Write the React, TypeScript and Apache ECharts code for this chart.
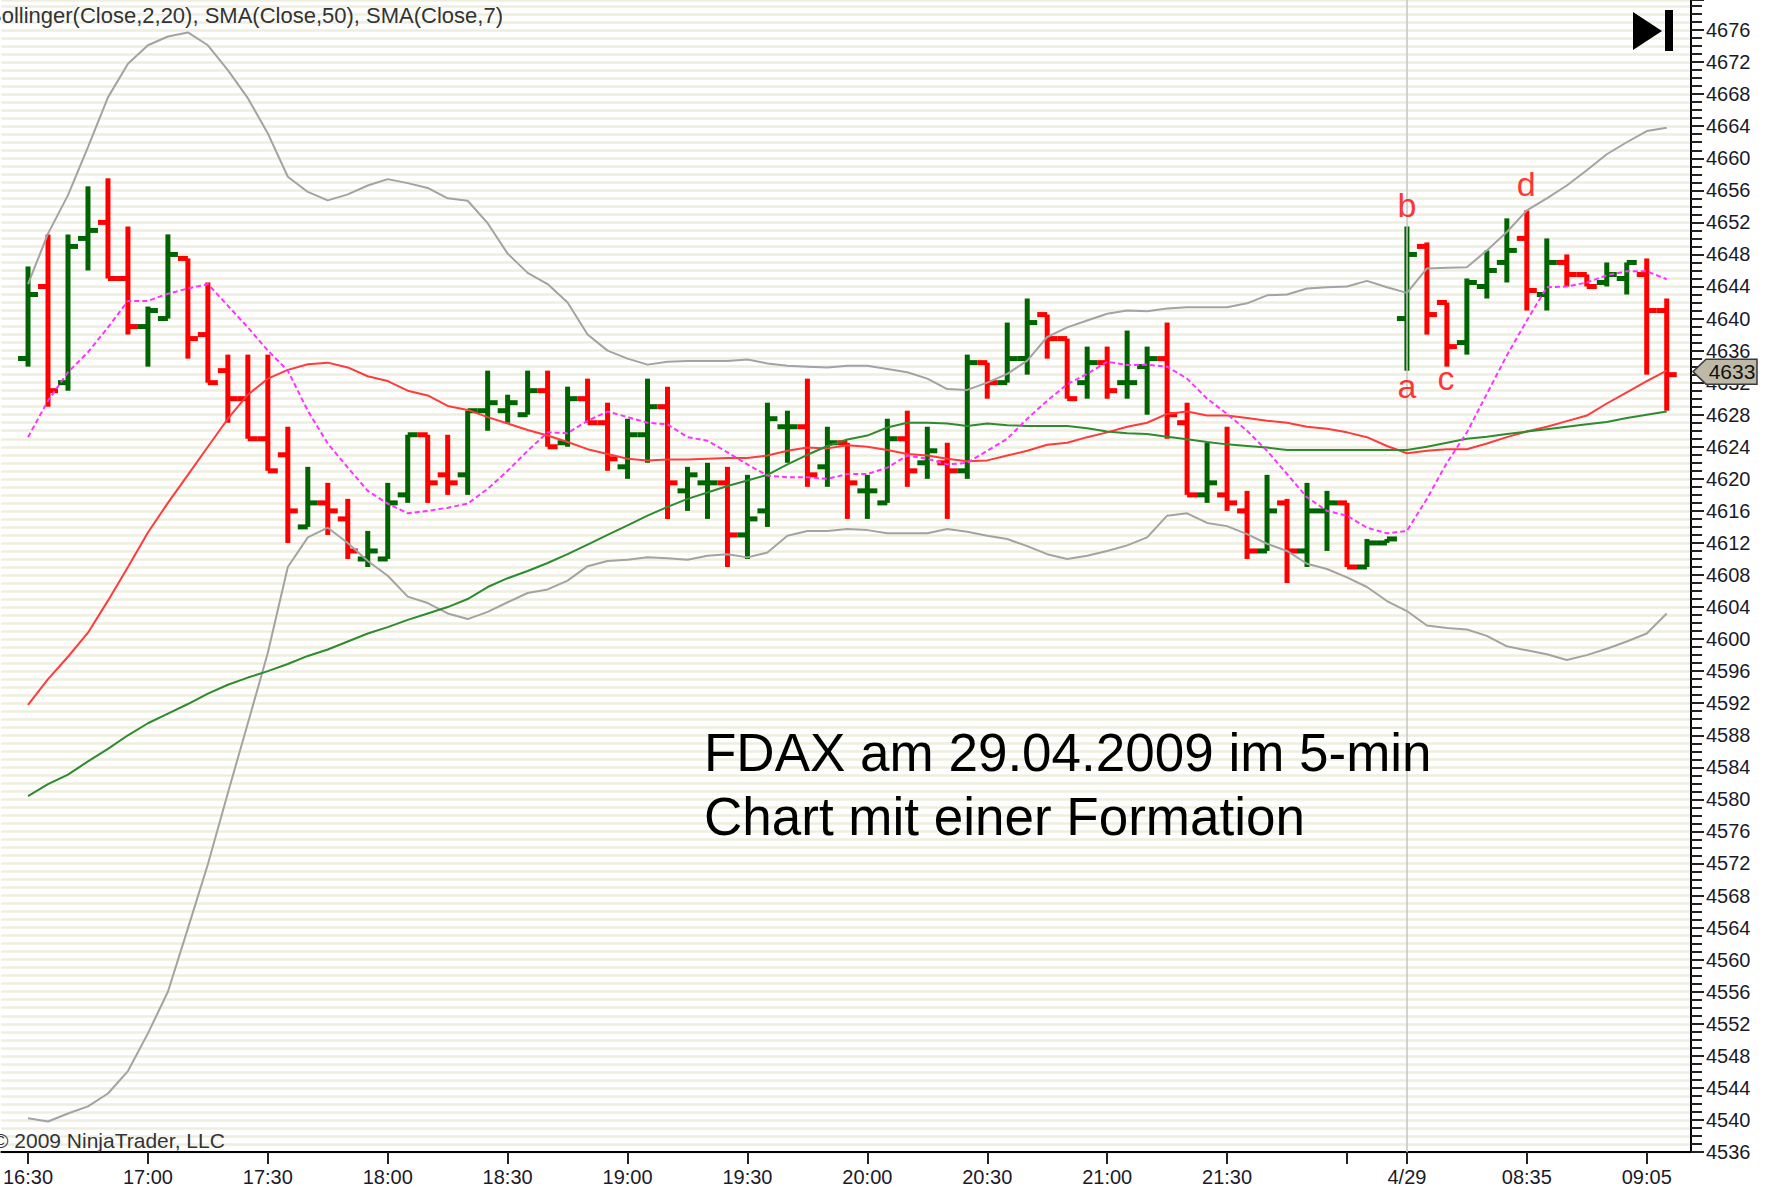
import React, { useEffect, useRef } from "react";
import * as echarts from "echarts";

// ---- data (5-min bars, FDAX 28./29.04.2009) ----
const opens = [
  4635, 4644, 4632, 4650, 4652, 4645, 4639, 4640, 4647.5, 4638,
  4633.5, 4630, 4625, 4623, 4614, 4617, 4615, 4610, 4610, 4618,
  4625.5, 4620.5, 4620.5, 4628.5, 4628.5, 4628, 4631, 4624.5, 4630, 4627,
  4621.5, 4625.5, 4629, 4618.5, 4619.5, 4619.5, 4613, 4616, 4626.5, 4626.5,
  4621.5, 4624.5, 4618.5, 4617, 4625, 4622, 4622, 4621, 4634.5, 4632,
  4635, 4640.5, 4637.5, 4632, 4634.5, 4632, 4634, 4635, 4627, 4618,
  4618, 4616, 4611, 4617, 4611, 4616, 4617, 4609, 4612, 4640,
  4649, 4642, 4637, 4644, 4647, 4650, 4643, 4647, 4645.5, 4644.5,
  4645, 4645.5, 4641,
];
const highs = [
  4646.5, 4650.5, 4650.5, 4656.5, 4657.5, 4651.5, 4641.5, 4650.5, 4647.5, 4644.5,
  4635.5, 4635.5, 4635.5, 4626.5, 4621.5, 4619.5, 4617.5, 4613.5, 4619.5, 4625.5,
  4625.5, 4625.5, 4628.5, 4633.5, 4630.5, 4633.5, 4633.5, 4631.5, 4632.5, 4629.5,
  4627.5, 4632.5, 4631.5, 4621.5, 4622, 4621.5, 4620.5, 4629.5, 4628.5, 4632.5,
  4626.5, 4624.5, 4620.5, 4627.5, 4628.5, 4626.5, 4624.5, 4635.5, 4634.5, 4639.5,
  4642.5, 4640.5, 4637.5, 4636.5, 4636.5, 4638.5, 4636.5, 4639.5, 4629.5, 4624.5,
  4626.5, 4618.5, 4620.5, 4617.5, 4619.5, 4618.5, 4617, 4612.5, 4612.5, 4651.5,
  4649.5, 4642, 4645, 4648.5, 4652.5, 4653.5, 4650, 4648, 4645.5, 4647,
  4647, 4647.5, 4642.5,
];
const lows = [
  4634, 4629, 4631, 4646, 4645, 4638, 4634, 4640, 4635, 4632,
  4627, 4625, 4621, 4612, 4614, 4613, 4610, 4609, 4610, 4617,
  4617, 4618, 4618, 4626, 4627, 4628, 4624, 4624, 4627, 4621,
  4620, 4622, 4615, 4616, 4615, 4609, 4610, 4614, 4622, 4619,
  4619, 4615, 4615, 4617, 4619, 4620, 4615, 4620, 4630, 4632,
  4633, 4635, 4630, 4630, 4630, 4630, 4628, 4625, 4618, 4617,
  4616, 4610, 4611, 4607, 4609, 4611, 4609, 4609, 4612, 4633.5,
  4638, 4634, 4635.5, 4642.5, 4644.5, 4641, 4641, 4644, 4644, 4644,
  4643, 4633, 4628.5,
];
const closes = [
  4643, 4631, 4649, 4651, 4645, 4639, 4641, 4648, 4637.5, 4632,
  4630, 4625, 4621, 4616, 4617, 4616, 4611, 4611, 4617, 4625.5,
  4619.5, 4619.5, 4628.5, 4629.5, 4629.5, 4631, 4624, 4630, 4627, 4622.5,
  4625.5, 4629, 4619.5, 4620.5, 4619.5, 4613, 4615, 4627.5, 4626.5, 4620.5,
  4624.5, 4619.5, 4618.5, 4625, 4621, 4623.5, 4621, 4634.5, 4632, 4635,
  4639.5, 4637.5, 4630, 4634.5, 4631, 4632, 4635, 4628, 4618, 4619.5,
  4617, 4611, 4616, 4611, 4616, 4617, 4609, 4612, 4612.5, 4648,
  4640.5, 4636.5, 4644.5, 4646, 4648.5, 4643.5, 4647, 4645.5, 4644, 4645.5,
  4647, 4641, 4633,
];

// Bollinger(Close,2,20)
const bbUpper = [
  4644.3, 4650.6, 4655.4, 4661.4, 4667.6, 4671.8, 4674.1, 4675.2, 4675.7, 4674.1,
  4671, 4667.5, 4663.1, 4657.7, 4655.8, 4654.75, 4655.5, 4656.6, 4657.4, 4656.9,
  4656.3, 4655, 4654.7, 4651.9, 4648.1, 4645.7, 4644.3, 4642, 4638, 4636,
  4635, 4634.25, 4634.6, 4634.7, 4634.7, 4634.7, 4634.9, 4634.4, 4634.1, 4634,
  4633.9, 4634.1, 4634.1, 4633.7, 4633.3, 4632.5, 4631.2, 4631.1, 4632, 4633.1,
  4634.75, 4637.7, 4638.9, 4639.75, 4640.6, 4641, 4640.9, 4641.25, 4641.4, 4641.4,
  4641.4, 4641.9, 4642.9, 4643, 4643.75, 4643.9, 4644, 4644.7, 4643.9, 4643.2,
  4646.25, 4646.35, 4646.4, 4648.5, 4650.8, 4653.5, 4655, 4656.6, 4658.5, 4660.5,
  4662, 4663.4, 4663.8,
];
const bbMiddle = [
  4591.8, 4595, 4597.8, 4600.8, 4604.8, 4609, 4613.3, 4617, 4620.5, 4624,
  4627.5, 4630.5, 4632.5, 4633.6, 4634.3, 4634.5, 4633.9, 4632.8, 4632.2, 4631,
  4630.4, 4629.1, 4628.6, 4627.7, 4626.9, 4626.1, 4625.4, 4624.6, 4623.7, 4623.1,
  4622.5, 4622.3, 4622.4, 4622.4, 4622.5, 4622.6, 4622.6, 4622.9, 4623.5, 4623.9,
  4623.8, 4624.2, 4624, 4623.6, 4623.1, 4622.9, 4622.5, 4622.2, 4622.3, 4622.9,
  4623.5, 4624.25, 4624.5, 4625.2, 4625.8, 4626.5, 4627, 4628.1, 4628.4, 4627.9,
  4627.9, 4627.6, 4627.25, 4627, 4626.5, 4626.25, 4625.8, 4625.2, 4624.1, 4623.2,
  4623.5, 4623.7, 4623.7, 4624.4, 4625.2, 4625.9, 4626.5, 4627.2, 4627.9, 4629.4,
  4630.8, 4632.2, 4633.5,
];
const bbLower = [
  4540.2, 4539.8, 4540.8, 4541.7, 4543.3, 4546.1, 4550.8, 4556, 4563.9, 4571.9,
  4580.8, 4589.5, 4598.3, 4609, 4612.7, 4613.9, 4612, 4609.75, 4607.9, 4605.3,
  4604.5, 4603.2, 4602.5, 4603.4, 4604.6, 4605.75, 4606.2, 4607.3, 4609.1, 4609.75,
  4609.9, 4610.2, 4610.1, 4609.9, 4610.4, 4610.6, 4610.2, 4610.8, 4612.9, 4613.5,
  4613.5, 4613.75, 4613.6, 4613.2, 4613.2, 4613.2, 4613.75, 4613.4, 4612.9, 4612.5,
  4611.6, 4610.6, 4610, 4610.4, 4611, 4611.7, 4612.7, 4615.4, 4615.7, 4614.5,
  4614.1, 4613.1, 4611.9, 4611, 4609.4, 4608.75, 4607.7, 4606.5, 4604.75, 4603.5,
  4601.7, 4601.4, 4601.2, 4600.4, 4599.1, 4598.6, 4598.1, 4597.4, 4598, 4598.8,
  4599.7, 4600.7, 4603.2,
];
// SMA(Close,50)
const sma50 = [
  4580.4, 4581.9, 4583.1, 4584.75, 4586.3, 4588, 4589.5, 4590.7, 4591.9, 4593.2,
  4594.3, 4595.2, 4596, 4596.9, 4597.9, 4598.7, 4599.7, 4600.7, 4601.5, 4602.4,
  4603.2, 4604, 4605, 4606.5, 4607.6, 4608.5, 4609.5, 4610.6, 4611.8, 4613,
  4614.2, 4615.4, 4616.5, 4617.5, 4618.3, 4619.1, 4619.8, 4620.5, 4621.8, 4623,
  4624.1, 4624.9, 4625.4, 4626.4, 4627, 4627, 4626.9, 4626.6, 4626.9, 4626.7,
  4626.6, 4626.6, 4626.6, 4626.3, 4625.9, 4625.7, 4625.6, 4625.25, 4624.95, 4624.6,
  4624.3, 4624.1, 4623.9, 4623.6, 4623.6, 4623.6, 4623.6, 4623.6, 4623.6, 4623.6,
  4624, 4624.5, 4625, 4625.25, 4625.6, 4625.9, 4626.2, 4626.5, 4626.8, 4627.1,
  4627.6, 4628, 4628.4,
];
// SMA(Close,7)
const sma7 = [
  4625.2, 4629.75, 4633.3, 4635.8, 4638.9, 4642.2, 4642.2, 4643.1, 4643.75, 4644.3,
  4641.6, 4638.9, 4636, 4633.5, 4628.5, 4624.4, 4621.4, 4618.5, 4616.9, 4615.7,
  4616, 4616.4, 4616.9, 4618.75, 4621, 4623.5, 4625.8, 4625.7, 4627.25, 4628.4,
  4627.7, 4627, 4626.8, 4625.2, 4624.75, 4623.3, 4621.8, 4620.4, 4620.2, 4620.2,
  4620, 4620.6, 4620.6, 4621.4, 4622.9, 4622.5, 4621.8, 4622, 4623.5, 4625,
  4627.5, 4629.75, 4631.8, 4633.1, 4634.6, 4634.2, 4634.25, 4634, 4632.5, 4630,
  4628.1, 4626, 4623.5, 4620.6, 4617.7, 4616, 4615.4, 4613.9, 4613.2, 4613.5,
  4617.5, 4622, 4625.8, 4630.6, 4635.4, 4639.75, 4643.9, 4644, 4644.5, 4645.4,
  4645.9, 4645.9, 4644.9,
];

// x-axis ticks (bar index) and their labels
const tickIdx = [0, 6, 12, 18, 24, 30, 36, 42, 48, 54, 60, 66, 69, 75, 81];
const tickLabels = [
  "16:30", "17:00", "17:30", "18:00", "18:30", "19:00", "19:30", "20:00",
  "20:30", "21:00", "21:30", "", "4/29", "08:35", "09:05",
];

// formation markers
const markerNames = ["a", "b", "c", "d"];
const markerX = [69, 69, 70.95, 74.97];
const markerY = [4631.6, 4654.2, 4632.6, 4656.8];

const sessionBreakIdx = 69;
const lastPrice = 4633;

const FONT = '"Liberation Sans", Arial, sans-serif';

export default function App() {
  const ref = useRef<HTMLDivElement>(null);

  useEffect(() => {
    if (!ref.current) return;
    const chart = echarts.init(ref.current, undefined, { renderer: "svg" });

    const ohlc = opens.map((o, i) => [i, o, highs[i], lows[i], closes[i]]);
    const toXY = (arr: number[]) => arr.map((v, i) => [i, v]);

    const lineSeries = (name: string, data: number[], color: string, width: number, dashed?: boolean) => ({
      type: "line",
      name,
      data: toXY(data),
      showSymbol: false,
      symbol: "none",
      z: 5,
      lineStyle: { color, width, type: dashed ? [5, 3] : "solid" },
      silent: true,
    });

    const option: any = {
      animation: false,
      backgroundColor: "#ffffff",
      grid: { left: 0, right: 77, top: 0, bottom: 45, containLabel: false },
      xAxis: {
        type: "value",
        min: -1.335,
        max: 83.215,
        axisLine: { show: true, onZero: false, lineStyle: { color: "#000", width: 2 } },
        axisTick: {
          show: true,
          length: 12,
          customValues: tickIdx,
          lineStyle: { color: "#222", width: 2 },
        },
        axisLabel: {
          customValues: tickIdx,
          formatter: (v: number) => {
            const k = tickIdx.indexOf(Math.round(v));
            return k >= 0 ? tickLabels[k] : "";
          },
          fontSize: 20,
          fontFamily: FONT,
          color: "#1a1a2a",
          margin: 15,
        },
        splitLine: { show: false },
      },
      yAxis: {
        type: "value",
        position: "right",
        min: 4536,
        max: 4679.75,
        interval: 4,
        axisLine: { show: true, onZero: false, lineStyle: { color: "#000", width: 2 } },
        axisTick: { show: true, length: 13, lineStyle: { color: "#222", width: 2 } },
        minorTick: { show: true, splitNumber: 4, length: 11, lineStyle: { color: "#222", width: 2 } },
        axisLabel: {
          formatter: (v: number) => (Math.abs(v % 4) < 1e-6 ? String(v) : ""),
          fontSize: 20,
          fontFamily: FONT,
          color: "#1a1a2a",
          margin: 15,
        },
        splitLine: { show: true, lineStyle: { color: "#eeeedf", width: 2.5 } },
        minorSplitLine: { show: true, lineStyle: { color: "#eeeedf", width: 2.5 } },
      },
      series: [
        {
          type: "custom",
          name: "FDAX",
          data: ohlc,
          encode: { x: 0, y: [1, 2, 3, 4] },
          z: 3,
          renderItem: (params: any, api: any) => {
            const x = api.value(0);
            const o = api.value(1);
            const h = api.value(2);
            const l = api.value(3);
            const c = api.value(4);
            const pO = api.coord([x, o]);
            const pH = api.coord([x, h]);
            const pL = api.coord([x, l]);
            const pC = api.coord([x, c]);
            const half = api.size([1, 0])[0] / 2;
            const color = c >= o ? "#006400" : "#ff0000";
            const w = 5;
            return {
              type: "group",
              children: [
                {
                  type: "rect",
                  shape: { x: pH[0] - w / 2, y: pH[1], width: w, height: Math.max(pL[1] - pH[1], 1) },
                  style: { fill: color },
                },
                {
                  type: "rect",
                  shape: { x: pO[0] - half, y: pO[1] - w / 2, width: half, height: w },
                  style: { fill: color },
                },
                {
                  type: "rect",
                  shape: { x: pC[0], y: pC[1] - w / 2, width: half, height: w },
                  style: { fill: color },
                },
              ],
            };
          },
        },
        lineSeries("Bollinger upper", bbUpper, "#a3a3a3", 2),
        lineSeries("Bollinger lower", bbLower, "#a3a3a3", 2),
        lineSeries("Bollinger middle", bbMiddle, "#ff3b3b", 2),
        lineSeries("SMA(Close,50)", sma50, "#2e8b2e", 2),
        lineSeries("SMA(Close,7)", sma7, "#ff33ff", 2, true),
        {
          type: "scatter",
          name: "Formation",
          data: markerNames.map((n, i) => ({ name: n, value: [markerX[i], markerY[i]] })),
          symbolSize: 1,
          itemStyle: { color: "rgba(0,0,0,0)" },
          z: 6,
          silent: true,
          label: {
            show: true,
            position: "inside",
            formatter: "{b}",
            color: "#ff0000",
            fontSize: 34,
            fontFamily: FONT,
          },
          markLine: {
            silent: true,
            symbol: ["none", "none"],
            label: { show: false },
            lineStyle: { color: "#c4c4c4", width: 1.5, type: "solid" },
            data: [{ xAxis: sessionBreakIdx }],
          },
        },
      ],
    };

    chart.setOption(option);

    const py = chart.convertToPixel({ yAxisIndex: 0 }, lastPrice) as number;
    const ty = py - 3;

    chart.setOption({
      graphic: [
        {
          type: "text",
          x: -13,
          y: 15,
          z: 100,
          style: {
            text: "Bollinger(Close,2,20), SMA(Close,50), SMA(Close,7)",
            fontSize: 22,
            fontFamily: FONT,
            fill: "#333333",
            verticalAlign: "middle",
          },
        },
        {
          type: "text",
          x: -7,
          y: 1140,
          z: 100,
          style: {
            text: "© 2009 NinjaTrader, LLC",
            fontSize: 21,
            fontFamily: FONT,
            fill: "#333333",
            verticalAlign: "middle",
          },
        },
        {
          type: "text",
          x: 704,
          y: 752,
          z: 100,
          style: {
            text: "FDAX am 29.04.2009 im 5-min",
            fontSize: 53,
            fontFamily: FONT,
            fill: "#000000",
            verticalAlign: "middle",
          },
        },
        {
          type: "text",
          x: 704,
          y: 816,
          z: 100,
          style: {
            text: "Chart mit einer Formation",
            fontSize: 53,
            fontFamily: FONT,
            fill: "#000000",
            verticalAlign: "middle",
          },
        },
        {
          type: "polygon",
          z: 100,
          shape: { points: [[1633, 12], [1633, 50], [1662, 31]] },
          style: { fill: "#000" },
        },
        {
          type: "rect",
          z: 100,
          shape: { x: 1665, y: 10, width: 8, height: 41 },
          style: { fill: "#000" },
        },
        {
          type: "polygon",
          z: 100,
          shape: {
            points: [
              [1693, ty],
              [1706, ty - 12.5],
              [1757, ty - 12.5],
              [1757, ty + 12.5],
              [1706, ty + 12.5],
            ],
          },
          style: { fill: "#bdb9a6", stroke: "#3a3a3a", lineWidth: 1.5 },
        },
        {
          type: "text",
          z: 101,
          x: 1732,
          y: ty,
          style: {
            text: String(lastPrice),
            fontSize: 21,
            fontFamily: FONT,
            fill: "#111",
            align: "center",
            verticalAlign: "middle",
          },
        },
      ],
    });

    return () => chart.dispose();
  }, []);

  return (
    <div
      ref={ref}
      style={{ position: "absolute", left: 0, top: 0, width: 1768, height: 1197, background: "#fff" }}
    />
  );
}
